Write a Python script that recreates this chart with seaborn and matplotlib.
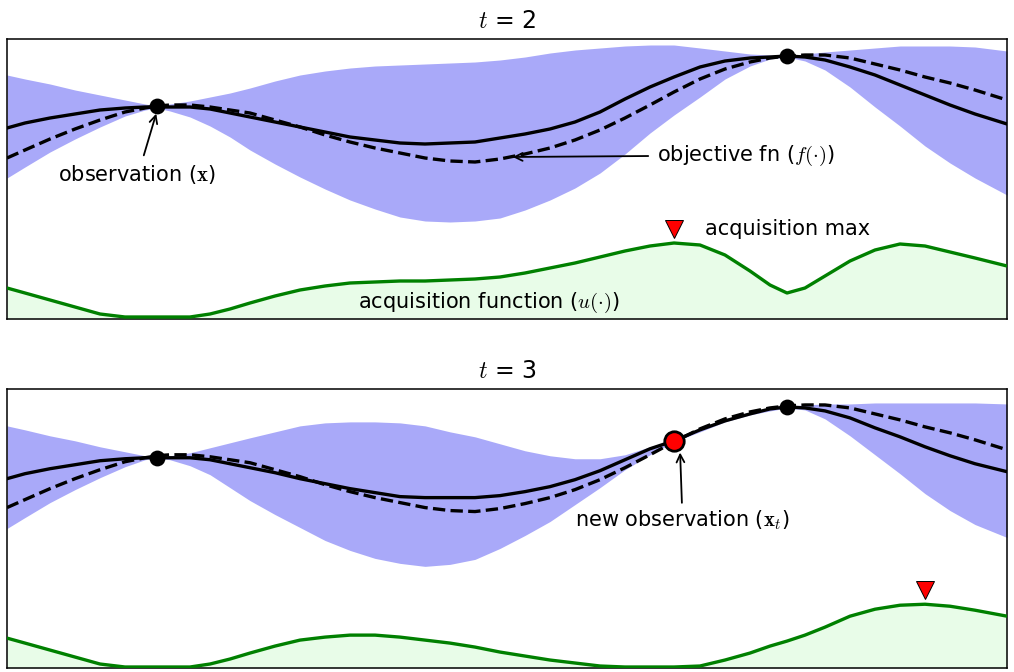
import matplotlib
matplotlib.use("Agg")
import matplotlib.pyplot as plt
import seaborn as sns
import numpy as np
import pandas as pd

# ---------------- data ----------------
x_grid = [7, 25, 50, 75, 100, 125, 145, 157, 170, 190, 210, 230, 250, 275, 300, 325,
          350, 375, 400, 425, 450, 475, 500, 525, 550, 575, 600, 625, 650, 674, 700,
          725, 750, 770, 787, 805, 825, 850, 875, 900, 925, 950, 975, 1007]

objective = [161, 169, 180, 190, 199, 207, 211, 213, 214, 214, 212, 209, 206, 199, 192,
             184, 177, 171, 166, 161, 158, 157, 160, 165, 171, 179, 189, 201, 214, 227,
             240, 250, 257, 261, 263, 264, 264, 261, 255, 249, 242, 236, 229, 219]

# t = 2
mean_t2 = [191, 196, 201, 205, 209, 211, 212, 212, 212, 212, 210, 206, 202, 197, 192,
           187, 182, 179, 176, 175, 176, 177, 181, 185, 190, 197, 207, 220, 232, 242,
           252, 258, 261, 262, 263, 262, 259, 252, 244, 234, 224, 214, 205, 195]
upper_t2 = [244, 240, 235, 229, 224, 219, 215, 213, 215, 218, 222, 226, 231, 238, 244,
            248, 251, 253, 254, 255, 256, 257, 259, 262, 266, 269, 271, 273, 274, 274,
            271, 268, 265, 264, 263, 265, 267, 269, 271, 273, 273, 273, 272, 268]
lower_t2 = [141, 152, 167, 180, 192, 203, 209, 211, 208, 202, 193, 182, 169, 155, 142,
            130, 119, 110, 102, 98, 97, 98, 101, 109, 119, 131, 146, 165, 186, 204,
            222, 240, 253, 260, 262, 258, 249, 232, 212, 193, 173, 156, 141, 124]
acq_t2 = [31, 26, 19, 12, 5, 2, 2, 2, 2, 2, 5, 10, 16, 23, 29,
          33, 36, 37, 38, 38, 39, 40, 42, 46, 51, 56, 62, 68, 73, 76,
          74, 64, 48, 34, 26, 31, 43, 58, 69, 75, 73, 67, 61, 53]
obs_x_t2 = [157, 787]
obs_y_t2 = [213, 263]

# t = 3
mean_t3 = [190, 195, 200, 204, 208, 210, 211, 211, 211, 211, 209, 205, 201, 196, 190,
           185, 180, 176, 172, 171, 171, 171, 173, 177, 182, 189, 198, 209, 220, 228,
           239, 248, 255, 260, 262, 261, 258, 251, 241, 232, 222, 213, 205, 197]
upper_t3 = [243, 239, 233, 228, 222, 217, 213, 212, 213, 216, 221, 226, 231, 237, 243,
            246, 247, 247, 246, 243, 237, 232, 225, 218, 213, 210, 210, 214, 222, 229,
            241, 250, 257, 261, 263, 264, 265, 265, 266, 266, 266, 266, 266, 265]
lower_t3 = [140, 151, 166, 179, 191, 202, 209, 211, 209, 203, 194, 181, 168, 154, 141,
            128, 118, 110, 105, 102, 104, 109, 120, 133, 147, 164, 181, 199, 214, 227,
            237, 247, 254, 258, 261, 259, 250, 233, 214, 195, 175, 158, 144, 131]
acq_t3 = [30, 25, 18, 11, 4, 1, 1, 1, 1, 1, 4, 9, 15, 22, 28,
          31, 33, 33, 31, 28, 25, 21, 16, 12, 8, 5, 2, 1, 1, 1,
          2, 8, 15, 22, 27, 33, 41, 52, 59, 63, 64, 62, 58, 52]
obs_x_t3 = [157, 787]
obs_y_t3 = [211, 262]
new_obs_x = [674]
new_obs_y = [228]

titles = ["$t$ = 2", "$t$ = 3"]

# ---------------- style ----------------
sns.set_theme(style="white")
plt.rcParams["font.family"] = ["DejaVu Sans"]
plt.rcParams["mathtext.fontset"] = "cm"
plt.rcParams["text.color"] = "black"

BAND = "#a9a9f9"
ACQ_FILL = "#e8fce8"
ACQ_LINE = "#008000"
LABEL_FS = 15

fig = plt.figure(figsize=(10.14, 6.72), dpi=100)
ax1 = fig.add_axes([7 / 1014, 1 - 319 / 672, 1000 / 1014, 280 / 672])
ax2 = fig.add_axes([7 / 1014, 1 - 668 / 672, 1000 / 1014, 279 / 672])


def draw_panel(ax, mean, upper, lower, acq, ox, oy, title):
    df = pd.DataFrame({"x": x_grid, "mean": mean, "upper": upper, "lower": lower,
                       "obj": objective, "acq": acq})
    ax.fill_between(df["x"], df["lower"], df["upper"], color=BAND, lw=0, zorder=1)
    sns.lineplot(data=df, x="x", y="mean", ax=ax, color="black", lw=2.4,
                 estimator=None, zorder=3)
    sns.lineplot(data=df, x="x", y="obj", ax=ax, color="black", lw=2.4,
                 linestyle="--", estimator=None, zorder=3)
    ax.fill_between(df["x"], 0, df["acq"], color=ACQ_FILL, lw=0, zorder=1)
    sns.lineplot(data=df, x="x", y="acq", ax=ax, color=ACQ_LINE, lw=2.4,
                 estimator=None, zorder=3)
    sns.scatterplot(x=ox, y=oy, ax=ax, color="black", s=130, edgecolor="black",
                    linewidth=0, zorder=5)
    # acquisition max marker
    i = int(np.argmax(acq))
    ax.plot([x_grid[i]], [acq[i] + 14], marker="v", ms=13, color="#ff0000",
            markeredgecolor="black", markeredgewidth=0.7, zorder=6)
    ax.set_xlim(7, 1007)
    ax.set_ylim(0, 280)
    ax.set_xticks([])
    ax.set_yticks([])
    ax.set_xlabel("")
    ax.set_ylabel("")
    for s in ax.spines.values():
        s.set_color("black")
        s.set_linewidth(1.1)
    ax.set_title(title, fontsize=17, pad=8, color="black")
    return i


draw_panel(ax1, mean_t2, upper_t2, lower_t2, acq_t2, obs_x_t2, obs_y_t2, titles[0])
draw_panel(ax2, mean_t3, upper_t3, lower_t3, acq_t3, obs_x_t3, obs_y_t3, titles[1])

# new observation (red)
ax2.plot(new_obs_x, new_obs_y, marker="o", ms=14, color="#ff0000",
         markeredgecolor="black", markeredgewidth=2, ls="none", zorder=7)

arrow = dict(arrowstyle="->", color="black", lw=1.3, mutation_scale=14)

# panel 1 annotations
ax1.annotate("", xy=(157, 208), xytext=(143, 161), arrowprops=arrow, zorder=8)
ax1.text(58, 144, r"observation ($\mathbf{x}$)", fontsize=LABEL_FS, va="center", ha="left")
ax1.annotate("", xy=(510, 162), xytext=(651, 163), arrowprops=arrow, zorder=8)
ax1.text(657, 163, r"objective fn ($f(\cdot)$)", fontsize=LABEL_FS, va="center", ha="left")
ax1.text(705, 90, "acquisition max", fontsize=LABEL_FS, va="center", ha="left")
ax1.text(358, 16, r"acquisition function ($u(\cdot)$)", fontsize=LABEL_FS,
         va="center", ha="left")

# panel 2 annotations
ax2.annotate("", xy=(680, 219), xytext=(682, 163), arrowprops=arrow, zorder=8)
ax2.text(575, 148, r"new observation ($\mathbf{x}_t$)", fontsize=LABEL_FS,
         va="center", ha="left")

fig.savefig("out.png", dpi=100)
